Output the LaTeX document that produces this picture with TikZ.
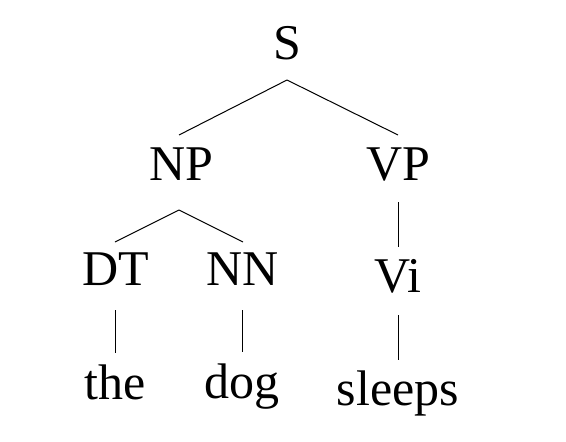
\documentclass[tikz,border=0pt]{standalone}
\usepackage{fontspec}
\setmainfont{Liberation Serif}
\begin{document}
\begin{tikzpicture}[x=1pt,y=-1pt,
  lbl/.style={anchor=base,inner sep=0pt,outer sep=0pt,text height=33pt,text depth=0pt,
    font=\fontsize{50}{60}\selectfont},
  edge/.style={draw=black,line width=1pt}]
\useasboundingbox[fill=white] (0,0) rectangle (566,442);
\node[lbl] (S)  at (287,59) {S};
\node[lbl] (NP) at (181,180) {NP};
\node[lbl] (VP) at (398,180) {VP};
\node[lbl] (DT) at (116,285) {DT};
\node[lbl] (NN) at (243,285) {NN};
\node[lbl] (Vi) at (398,292) {Vi};
\node[lbl] (the) at (115,399) {the};
\node[lbl] (dog) at (242,398) {dog};
\node[lbl] (sleeps) at (398,405) {sleeps};
\draw[edge] ([yshift=-21pt]S.south) -- ([xshift=-2pt,yshift=12pt]NP.north);
\draw[edge] ([yshift=-21pt]S.south) -- ([yshift=12pt]VP.north);
\draw[edge] ([xshift=-2pt,yshift=-30pt]NP.south) -- ([xshift=-1pt,yshift=10pt]DT.north);
\draw[edge] ([xshift=-2pt,yshift=-30pt]NP.south) -- ([yshift=10pt]NN.north);
\draw[edge] ([yshift=-25pt]DT.south -| the.north) -- ([yshift=13pt]the.north);
\draw[edge] ([yshift=-25pt]NN.south -| dog.north) -- ([yshift=13pt]dog.north);
\draw[edge] ([yshift=-22pt]VP.south -| Vi.north) -- ([yshift=12pt]Vi.north);
\draw[edge] ([yshift=-23pt]Vi.south -| sleeps.north) -- ([yshift=12pt]sleeps.north);
\end{tikzpicture}
\end{document}
